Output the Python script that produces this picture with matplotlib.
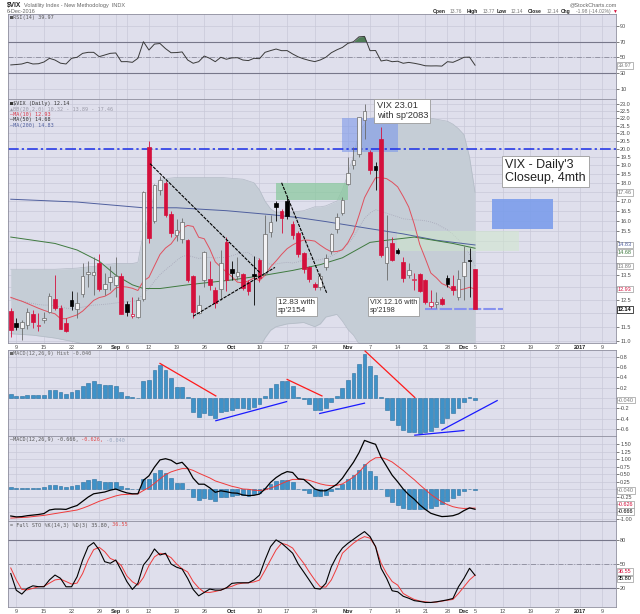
import numpy as np
import pandas as pd
import matplotlib
matplotlib.use("Agg")
import matplotlib.pyplot as plt
from matplotlib.patches import Rectangle
from matplotlib.ticker import FixedLocator, NullLocator, FixedFormatter

plt.rcParams["font.family"] = ["Liberation Sans", "DejaVu Sans"]

# -------------------------------------------------
# DATA  ($VIX daily, 5 Aug 2016 .. 5 Dec 2016)
# -------------------------------------------------
holidays = ["2016-09-05", "2016-11-24", "2016-12-26", "2017-01-02"]
trade_days = pd.bdate_range("2016-08-05", "2017-01-13", freq="C", holidays=holidays)

opens = [12.07, 11.65, 11.45, 11.55, 11.95, 11.52, 11.75, 12.05, 12.55, 12.20,
         11.65, 12.50, 12.15, 12.75, 13.55, 13.50, 14.00, 12.95, 13.20, 13.10,
         13.45, 12.35, 11.90, 11.85, 12.55, 20.10, 16.00, 17.60, 18.00, 16.35,
         15.30, 15.10, 15.05, 13.45, 12.00, 13.30, 13.35, 12.90, 12.95, 14.95,
         13.75, 13.45, 13.55, 13.20, 13.52, 14.15, 13.60, 15.45, 16.90, 16.50,
         17.00, 15.85, 15.40, 14.45, 13.85, 13.15, 13.00, 13.85, 14.55, 15.60,
         16.40, 17.95, 19.00, 19.70, 21.90, 19.80, 18.95, 20.60, 14.00, 14.90,
         14.60, 14.05, 13.50, 13.30, 13.55, 13.30, 12.25, 12.35, 12.55, 13.40,
         13.05, 12.60, 13.45, 14.15, 13.76]
highs = [12.20, 11.80, 11.75, 12.20, 12.10, 12.00, 12.05, 12.78, 13.50, 12.30,
         11.80, 12.85, 12.80, 14.00, 14.10, 14.30, 14.40, 13.60, 13.90, 14.30,
         13.60, 12.45, 12.60, 12.60, 17.55, 20.51, 17.95, 18.40, 18.10, 16.50,
         16.10, 16.15, 15.10, 13.50, 12.70, 14.55, 14.10, 13.00, 14.60, 15.20,
         14.10, 14.30, 13.60, 13.30, 14.35, 14.25, 16.30, 16.30, 17.00, 16.60,
         17.20, 16.00, 15.50, 14.50, 13.90, 13.20, 13.60, 14.40, 15.40, 16.40,
         17.20, 19.50, 20.10, 22.10, 23.01, 19.90, 19.20, 21.40, 16.30, 15.20,
         14.70, 14.30, 14.00, 13.60, 13.60, 13.35, 12.90, 12.80, 12.60, 13.50,
         13.50, 13.70, 14.80, 14.70, 13.77]
lows = [11.15, 11.38, 11.02, 11.40, 11.45, 11.35, 11.65, 12.00, 12.10, 11.40,
        11.30, 12.10, 11.80, 12.60, 13.00, 12.70, 12.85, 12.70, 12.90, 12.60,
        11.95, 11.90, 11.80, 11.80, 12.45, 14.90, 15.90, 17.30, 16.20, 15.20,
        15.00, 14.90, 13.20, 11.80, 11.95, 13.00, 12.90, 12.20, 12.50, 12.85,
        13.30, 13.30, 12.90, 12.70, 12.30, 13.20, 13.50, 15.20, 16.00, 15.40,
        16.10, 15.10, 14.30, 13.60, 13.20, 12.90, 12.90, 13.70, 14.40, 15.40,
        16.30, 17.90, 18.80, 19.50, 20.60, 18.50, 17.60, 14.30, 13.30, 14.10,
        14.40, 13.20, 13.40, 12.90, 12.80, 12.35, 12.20, 12.20, 12.30, 13.00,
        12.70, 12.50, 12.50, 12.60, 12.14]
closes = [11.39, 11.50, 11.66, 12.05, 11.68, 11.55, 11.81, 12.64, 12.19, 11.43,
          11.34, 12.27, 12.38, 13.45, 13.63, 13.65, 12.94, 13.12, 13.42, 13.48,
          11.98, 12.02, 11.94, 12.51, 17.50, 15.16, 17.85, 18.14, 16.30, 15.37,
          15.53, 15.92, 13.30, 12.02, 12.29, 14.50, 13.10, 12.39, 14.02, 13.29,
          13.57, 13.63, 12.99, 12.84, 13.48, 13.38, 15.36, 15.91, 16.69, 16.12,
          16.21, 15.28, 14.41, 13.75, 13.34, 13.02, 13.46, 14.24, 15.36, 16.19,
          17.06, 18.56, 19.32, 22.08, 22.51, 18.71, 18.74, 14.38, 14.74, 14.17,
          14.48, 13.37, 13.72, 13.35, 12.85, 12.42, 12.41, 12.43, 12.34, 13.15,
          12.90, 13.33, 14.07, 14.12, 12.14]

ma10 = [12.60, 12.52, 12.45, 12.36, 12.27, 12.18, 12.10, 12.03, 11.97, 11.79,
        11.79, 11.86, 11.93, 12.07, 12.27, 12.48, 12.59, 12.64, 12.76, 12.97,
        13.03, 13.01, 12.96, 12.87, 13.26, 13.41, 13.90, 14.40, 14.69, 14.88,
        15.23, 15.62, 15.76, 15.71, 15.19, 15.12, 14.65, 14.07, 13.84, 13.64,
        13.44, 13.21, 13.18, 13.26, 13.38, 13.27, 13.50, 13.85, 14.11, 14.40,
        14.66, 14.83, 14.97, 15.06, 15.05, 15.01, 14.82, 14.65, 14.52, 14.53,
        14.61, 14.94, 15.43, 16.26, 17.18, 17.75, 18.28, 18.29, 18.23, 18.03,
        17.77, 17.25, 16.69, 15.82, 14.85, 14.22, 13.59, 13.39, 13.15, 13.05,
        12.89, 12.89, 12.93, 13.00, 12.93]
bb_mid = [12.55, 12.50, 12.45, 12.40, 12.36, 12.32, 12.30, 12.30, 12.27, 12.23,
          12.18, 12.17, 12.18, 12.22, 12.26, 12.30, 12.31, 12.33, 12.35, 12.38,
          12.41, 12.43, 12.45, 12.47, 12.76, 12.94, 13.25, 13.52, 13.73, 13.92,
          14.13, 14.31, 14.36, 14.29, 14.22, 14.26, 14.27, 14.24, 14.27, 14.26,
          14.34, 14.42, 14.47, 14.49, 14.28, 14.20, 14.07, 13.96, 13.98, 14.02,
          14.05, 14.02, 14.07, 14.16, 14.21, 14.14, 14.16, 14.25, 14.32, 14.46,
          14.64, 14.88, 15.20, 15.66, 16.11, 16.38, 16.55, 16.47, 16.37, 16.28,
          16.19, 16.09, 16.06, 16.04, 16.02, 15.99, 15.93, 15.84, 15.69, 15.54,
          15.33, 15.07, 14.81, 14.41, 13.89]

bb_days = [0, 4, 8, 12, 14, 16, 19, 22, 23, 24, 25, 26, 27, 30, 34, 38, 42, 44, 45, 46,
           47, 48, 50, 53, 55, 56, 57, 59, 60, 61, 62, 63, 64, 65, 68, 72, 76, 79, 80, 81,
           82, 83, 84]
bb_upper = [13.75, 13.75, 13.75, 13.8, 13.85, 13.9, 14.0, 14.0, 14.05, 15.4,
            16.2, 17.4, 18.2, 18.3, 18.3, 18.3, 18.2, 18.0, 17.6, 17.0,
            16.6, 16.4, 16.4, 16.5, 16.7, 16.7, 16.75, 17.0, 17.6, 18.5,
            19.6, 21.0, 21.6, 22.0, 22.2, 22.2, 22.0, 21.8, 21.6, 21.3,
            20.9, 19.5, 17.46]
bb_lower = [11.25, 11.2, 11.1, 10.95, 10.85, 10.8, 10.74, 10.7, 10.7, 10.14,
            10.0, 9.6, 9.3, 9.5, 10.0, 10.2, 10.3, 10.5, 10.76, 11.1,
            11.37, 11.5, 11.6, 11.65, 11.5, 11.6, 11.85, 11.95, 11.7, 11.4,
            11.2, 10.9, 10.6, 10.5, 10.3, 10.0, 9.9, 9.5, 9.3, 9.0,
            8.7, 9.3, 10.32]

ma50_days = [0, 4, 8, 12, 16, 19, 22, 24, 27, 32, 36, 40, 46, 51, 56, 60, 65, 68, 73, 80, 84]
ma50_vals = [15.2, 15.05, 14.9, 14.6, 14.1, 13.5, 13.1, 12.95, 12.95, 13.1, 13.2,
             13.3, 13.5, 13.7, 13.95, 14.25, 14.95, 15.05, 15.2, 14.9, 14.68]
ma200_days = [0, 12, 18, 24, 30, 39, 47, 52, 57, 65, 71, 77, 84]
ma200_vals = [17.1, 16.95, 16.8, 16.65, 16.65, 16.5, 16.3, 16.15, 15.95, 15.6, 15.35,
              15.05, 14.83]

rsi = [40.3, 40.8, 41.5, 43.6, 41.5, 41.8, 44.0, 48.7, 46.5, 42.5,
       41.5, 48.7, 50.0, 55.0, 56.3, 56.3, 50.8, 52.9, 55.0, 55.5,
       44.4, 44.5, 43.6, 48.7, 69.8, 59.2, 66.8, 67.5, 61.0, 55.8,
       56.0, 56.8, 46.6, 42.4, 44.4, 51.6, 48.7, 44.4, 50.0, 47.5,
       49.2, 49.5, 46.5, 45.8, 48.7, 48.2, 56.3, 58.5, 60.5, 58.4,
       58.5, 54.2, 50.5, 48.0, 46.0, 44.5, 46.6, 50.0, 55.8, 59.5,
       62.5, 67.7, 69.7, 76.0, 76.5, 58.4, 58.6, 45.3, 46.5, 44.4,
       45.0, 42.4, 43.5, 42.4, 41.0, 39.2, 39.0, 39.1, 38.8, 44.4,
       43.6, 46.6, 50.0, 50.2, 39.97]

macd_hist = [0.07, 0.03, 0.03, 0.05, 0.05, 0.05, 0.06, 0.15, 0.15, 0.12,
             0.08, 0.12, 0.15, 0.23, 0.30, 0.33, 0.28, 0.25, 0.25, 0.23,
             0.12, 0.04, 0.01, 0.00, 0.33, 0.35, 0.54, 0.64, 0.54, 0.39,
             0.21, 0.21, 0.01, -0.27, -0.37, -0.30, -0.33, -0.39, -0.27, -0.25,
             -0.23, -0.19, -0.20, -0.21, -0.17, -0.12, 0.03, 0.19, 0.28, 0.32,
             0.32, 0.23, 0.02, -0.01, -0.12, -0.23, -0.23, -0.19, -0.07, 0.04,
             0.19, 0.35, 0.49, 0.65, 0.85, 0.62, 0.45, 0.01, -0.23, -0.43,
             -0.52, -0.62, -0.65, -0.65, -0.67, -0.66, -0.64, -0.56, -0.49, -0.39,
             -0.30, -0.20, -0.07, 0.01, -0.04]
macd_line = [-0.89, -0.92, -0.91, -0.88, -0.86, -0.84, -0.81, -0.69, -0.66, -0.66,
             -0.67, -0.60, -0.54, -0.40, -0.26, -0.15, -0.12, -0.09, -0.03, 0.01,
             -0.06, -0.12, -0.15, -0.15, 0.30, 0.45, 0.74, 0.98, 1.02, 0.97,
             0.85, 0.90, 0.70, 0.37, 0.17, 0.17, 0.05, -0.10, -0.05, -0.08,
             -0.12, -0.13, -0.19, -0.21, -0.20, -0.16, 0.01, 0.23, 0.39, 0.51,
             0.59, 0.56, 0.35, 0.33, 0.18, 0.01, -0.05, -0.05, 0.05, 0.17,
             0.37, 0.64, 0.90, 1.22, 1.63, 1.56, 1.50, 1.07, 0.77, 0.47,
             0.25, 0.01, -0.18, -0.33, -0.52, -0.67, -0.80, -0.86, -0.91, -0.90,
             -0.88, -0.82, -0.71, -0.62, -0.666]
macd_signal = [-0.96, -0.95, -0.94, -0.93, -0.91, -0.89, -0.87, -0.84, -0.81, -0.78,
               -0.75, -0.72, -0.69, -0.63, -0.56, -0.48, -0.40, -0.34, -0.28, -0.22,
               -0.18, -0.17, -0.16, -0.15, -0.04, 0.06, 0.20, 0.35, 0.49, 0.58,
               0.64, 0.69, 0.69, 0.63, 0.54, 0.46, 0.38, 0.28, 0.22, 0.16,
               0.10, 0.06, 0.01, 0.00, -0.03, -0.04, -0.02, 0.04, 0.11, 0.19,
               0.27, 0.33, 0.33, 0.33, 0.30, 0.24, 0.18, 0.14, 0.12, 0.13,
               0.18, 0.29, 0.41, 0.57, 0.78, 0.94, 1.05, 1.06, 1.00, 0.91,
               0.77, 0.63, 0.47, 0.32, 0.15, -0.01, -0.17, -0.30, -0.42, -0.51,
               -0.58, -0.62, -0.64, -0.63, -0.626]

sto_k = [38.0, 17.0, 12.2, 19.4, 22.6, 21.5, 21.4, 30.0, 36.1, 32.0,
         21.4, 21.4, 34.0, 55.0, 71.8, 76.9, 67.7, 52.9, 50.9, 55.0,
         42.0, 28.0, 18.1, 25.7, 48.7, 57.2, 68.9, 61.3, 63.5, 50.0,
         46.0, 43.7, 32.0, 18.0, 10.0, 14.3, 18.5, 17.2, 17.2, 20.0,
         25.7, 26.4, 26.4, 26.4, 30.0, 36.0, 55.0, 71.8, 80.3, 76.1,
         70.0, 63.5, 50.0, 40.0, 29.8, 19.4, 18.5, 25.7, 46.6, 60.0,
         70.0, 76.0, 81.0, 86.0, 90.7, 84.4, 71.8, 44.6, 32.0, 16.4,
         15.1, 9.5, 7.0, 4.0, 3.0, 1.7, 1.7, 2.5, 3.7, 5.0,
         6.7, 21.4, 32.0, 44.6, 35.8]
sto_d = [45.0, 30.0, 18.0, 17.5, 19.4, 21.4, 22.0, 26.0, 30.0, 31.0,
         28.0, 24.8, 26.0, 38.0, 55.0, 68.0, 71.0, 65.5, 57.0, 54.0,
         48.0, 35.0, 27.7, 23.5, 33.0, 48.0, 59.0, 63.5, 62.0, 58.0,
         50.0, 44.0, 40.0, 28.0, 20.0, 14.5, 14.3, 15.5, 17.2, 20.0,
         22.0, 24.8, 26.0, 26.4, 27.5, 29.8, 42.0, 55.0, 67.7, 76.1,
         74.0, 70.0, 60.0, 51.0, 40.0, 30.0, 21.4, 21.0, 30.0, 45.0,
         63.5, 70.0, 76.1, 81.0, 84.4, 82.4, 71.8, 50.9, 38.0, 28.0,
         23.5, 13.0, 9.0, 5.5, 3.5, 2.5, 1.7, 2.2, 3.4, 4.5,
         5.5, 13.0, 21.4, 30.0, 36.1]

tick_dates = ["2016-08-08", "2016-08-15", "2016-08-22", "2016-08-29", "2016-09-01",
              "2016-09-06", "2016-09-12", "2016-09-19", "2016-09-26", "2016-10-03",
              "2016-10-10", "2016-10-17", "2016-10-24", "2016-11-01", "2016-11-07",
              "2016-11-14", "2016-11-21", "2016-11-28", "2016-12-01", "2016-12-05",
              "2016-12-12", "2016-12-19", "2016-12-27", "2017-01-03", "2017-01-09"]
tick_labels = ["9", "15", "22", "29", "Sep", "6", "12", "19", "26", "Oct", "10", "17",
               "24", "Nov", "7", "14", "21", "28", "Dec", "5", "12", "19", "27", "2017", "9"]
bold_labels = {"Sep", "Oct", "Nov", "Dec", "2017"}

# chartist's drawings: (day0, value0, day1, value1)
price_trendlines = [(25.2, 19.1, 45.1, 13.6), (33.0, 11.88, 47.8, 13.83), (49.0, 18.0, 57.2, 12.75)]
hist_red_lines = [(27.0, 0.67, 37.1, 0.04), (50.0, 0.36, 56.3, 0.04), (64.1, 0.91, 73.1, 0.01)]
hist_blue_lines = [(37.1, -0.44, 49.9, -0.07), (55.9, -0.30, 64.0, -0.10),
                   (73.1, -0.72, 82.0, -0.63), (78.0, -0.62, 88.0, -0.05)]
# (day0, day1, low, high, colour, alpha)
zones = [(48.0, 61.1, 17.05, 18.0, "#8cc9a0", 0.75),
         (69.9, 92.0, 14.55, 15.5, "#cfe8cc", 0.55),
         (60.0, 70.1, 19.8, 22.0, "#7d98ea", 0.6),
         (87.0, 98.1, 15.6, 17.1, "#7b9deb", 0.9)]

n = len(closes)
x = np.arange(n)
tick_pos = [trade_days.get_loc(pd.Timestamp(d)) for d in tick_dates]

# -------------------------------------------------
# STYLE / LAYOUT
# -------------------------------------------------
W, H = 640, 614
LEFT, RIGHT = 8, 616
BG = "#dfdfec"
BAND = "#c5cdd6"
GRID = "#c9c9d8"
SPINE = "#8e8e9e"
RED = "#d4103c"
TXT = "#4a4a4a"
BAR = "#3f92c8"
MONO = "DejaVu Sans Mono"

fig = plt.figure(figsize=(W / 100, H / 100), dpi=100)
fig.patch.set_facecolor("white")


def fpx(xp, yp):
    return xp / W, 1 - yp / H


def add_panel(top, bottom):
    ax = fig.add_axes([LEFT / W, 1 - bottom / H, (RIGHT - LEFT) / W, (bottom - top) / H])
    ax.set_facecolor(BG)
    ax.set_xlim(-0.5, 109.5)
    ax.set_xticks(tick_pos)
    ax.tick_params(axis="x", length=0, labelbottom=False)
    ax.yaxis.tick_right()
    ax.tick_params(axis="y", which="both", labelsize=4, length=2, width=0.5, pad=1,
                   colors=TXT)
    ax.grid(True, color=GRID, lw=0.5)
    ax.set_axisbelow(True)
    for s in ax.spines.values():
        s.set_color(SPINE)
        s.set_linewidth(0.6)
    return ax


def set_yticks(ax, ticks, fmt, hidden=()):
    # labels sitting under a value tag are left blank, as the tag covers them
    ax.yaxis.set_major_locator(FixedLocator(ticks))
    labels = ["" if any(abs(t - h) < 1e-9 for h in hidden) else fmt.format(t) for t in ticks]
    ax.yaxis.set_major_formatter(FixedFormatter(labels))
    ax.yaxis.set_minor_locator(NullLocator())


def date_labels(ax):
    ax.tick_params(axis="x", labelbottom=True, labelsize=4, pad=1.2, colors=TXT)
    ax.set_xticklabels(tick_labels)
    for lab in ax.get_xticklabels():
        if lab.get_text() in bold_labels:
            lab.set_fontweight("bold")
            lab.set_color("#222222")


def tag(ax, val, txt, color="#777777", bold=False, dy=0):
    ax.annotate(txt, xy=(1, val), xycoords=("axes fraction", "data"),
                xytext=(1.5, dy), textcoords="offset points", ha="left", va="center",
                fontsize=4, color=color, fontweight="bold" if bold else "normal",
                bbox=dict(boxstyle="square,pad=0.15", fc="white",
                          ec="black" if bold else "#9a9a9a", lw=0.5),
                annotation_clip=False, zorder=10)


def mono_line(xp, yp, parts, size=3.7):
    cw = 0.602 * size * 100 / 72
    for txt, col in parts:
        fig.text(*fpx(xp, yp), txt, fontsize=size, family=MONO, color=col,
                 ha="left", va="center")
        xp += cw * len(txt)


# -------------------------------------------------
# RSI PANEL
# -------------------------------------------------
ax_rsi = add_panel(14, 99)
ax_rsi.set_ylim(-3, 105)
set_yticks(ax_rsi, [10, 30, 50, 70, 90], "{:.0f}")
rsi_arr = np.array(rsi)
ax_rsi.fill_between(x, 70, rsi_arr, where=rsi_arr >= 70, interpolate=True,
                    color="#4f7d58", lw=0, zorder=2)
ax_rsi.axhline(70, color="#77778a", lw=0.8, zorder=1)
ax_rsi.axhline(30, color="#77778a", lw=0.8, zorder=1)
ax_rsi.axhline(50, color="#8a8a9a", lw=0.6, ls=(0, (6, 2, 1, 2)), zorder=1)
ax_rsi.plot(x, rsi_arr, color="#3a3a3a", lw=0.7, zorder=3)
tag(ax_rsi, rsi[-1], f"{rsi[-1]:.2f}")

# -------------------------------------------------
# PRICE PANEL
# -------------------------------------------------
ax = add_panel(99, 343)
ax.set_yscale("log")
ax.set_ylim(10.93, 23.36)
set_yticks(ax, np.arange(11.0, 23.01, 0.5), "{:.1f}",
           hidden=(17.5, 15.0, 14.5, 14.0, 13.0, 12.0))
date_labels(ax)

ax.fill_between(bb_days, bb_lower, bb_upper, color=BAND, lw=0, zorder=1)
ax.plot(bb_days, bb_upper, color="#b3bbc6", lw=0.5, zorder=1.1)
ax.plot(bb_days, bb_lower, color="#b3bbc6", lw=0.5, zorder=1.1)
ax.plot(x, bb_mid, color="#a6a6b8", lw=0.6, ls=(0, (1, 1.5)), zorder=1.2)

for d0, d1, lo, hi, col, alpha in zones:
    ax.add_patch(Rectangle((d0, lo), d1 - d0, hi - lo, fc=col, ec="none",
                           alpha=alpha, zorder=1.5))

ax.plot(ma200_days, ma200_vals, color="#4f5f9e", lw=0.7, zorder=2)
ax.plot(ma50_days, ma50_vals, color="#3f7a3f", lw=0.7, zorder=2)
ax.plot(x, ma10, color="#e0505e", lw=0.7, zorder=2)

ax.axhline(20.0, color="#1a2ee8", lw=1.1, ls=(0, (7, 2, 1.5, 2)), zorder=2.5)
ax.hlines(12.16, 75, 89, color="#8792ee", lw=1.5, ls=(0, (6, 1)), zorder=2.5)

prev_close = np.r_[np.inf, closes[:-1]]
for i in range(n):
    o, h, l, c = opens[i], highs[i], lows[i], closes[i]
    down = c < prev_close[i]
    if c > o:
        fc = "#f2f2f4"
        ec = RED if down else "#6a6a6a"
    else:
        fc = ec = RED if down else "#000000"
    ax.vlines(i, l, h, color=ec, lw=0.6, zorder=3)
    ax.add_patch(Rectangle((i - 0.33, min(o, c)), 0.66, max(abs(c - o), 0.05),
                           fc=fc, ec=ec, lw=0.5, zorder=3.1))

for d0, v0, d1, v1 in price_trendlines:
    ax.plot([d0, d1], [v0, v1], color="black", lw=0.8, ls=(0, (3, 1)), zorder=4)

box = dict(boxstyle="square,pad=0.25", fc="white", ec="#9a9a9a", lw=0.6)
ax.text(66.2, 23.19, "VIX 23.01\nwith sp'2083", fontsize=6.7, color="#333333",
        va="top", ha="left", bbox=box, zorder=6, linespacing=1.15)
ax.text(48.4, 12.53, "12.83 with\nsp'2154", fontsize=5.9, color="#333333",
        va="top", ha="left", bbox=box, zorder=6, linespacing=1.15)
ax.text(65.0, 12.53, "VIX 12.16 with\nsp'2198", fontsize=5.3, color="#333333",
        va="top", ha="left", bbox=box, zorder=6, linespacing=1.2)
ax.text(89.4, 19.39, "VIX - Daily'3\nCloseup, 4mth", fontsize=9, color="#222222",
        va="top", ha="left", bbox=box, zorder=6, linespacing=1.15)

tag(ax, 17.46, "17.46")
tag(ax, 14.83, "14.83", "#4f5f9e")
tag(ax, 14.68, "14.68", "#3f7a3f", dy=-3.3)
tag(ax, 13.89, "13.89")
tag(ax, ma10[-1], f"{ma10[-1]:.2f}", RED)
tag(ax, closes[-1], f"{closes[-1]:.2f}", "black", bold=True)

# -------------------------------------------------
# MACD HISTOGRAM PANEL
# -------------------------------------------------
ax_h = add_panel(350, 436)
ax_h.set_ylim(-0.736, 0.93)
set_yticks(ax_h, [-0.6, -0.4, -0.2, 0.0, 0.2, 0.4, 0.6, 0.8], "{:.1f}", hidden=(0.0,))
ax_h.bar(x, macd_hist, width=0.7, color=BAR, edgecolor="#2b6f9f", lw=0.4, zorder=2)
for d0, v0, d1, v1 in hist_red_lines:
    ax_h.plot([d0, d1], [v0, v1], color="#ff1a1a", lw=0.9, zorder=3)
for d0, v0, d1, v1 in hist_blue_lines:
    ax_h.plot([d0, d1], [v0, v1], color="#1a1aff", lw=0.9, zorder=3)
tag(ax_h, macd_hist[-1], "-0.040")

# -------------------------------------------------
# MACD PANEL
# -------------------------------------------------
ax_m = add_panel(436, 521)
ax_m.set_ylim(-1.057, 1.777)
set_yticks(ax_m, [-1.0, -0.75, -0.5, -0.25, 0.0, 0.25, 0.5, 0.75, 1.0, 1.25, 1.5],
           "{:.2f}", hidden=(-0.75, -0.5, 0.0))
ax_m.bar(x, macd_hist, width=0.7, color=BAR, edgecolor="#2b6f9f", lw=0.4, zorder=2)
ax_m.plot(x, macd_signal, color="#f03a3a", lw=0.7, zorder=3)
ax_m.plot(x, macd_line, color="black", lw=0.9, zorder=4)
tag(ax_m, macd_hist[-1], "-0.040")
tag(ax_m, macd_signal[-1], "-0.626", RED, dy=2.6)
tag(ax_m, macd_line[-1], "-0.666", "black", dy=-1.8)

# -------------------------------------------------
# SLOW STOCHASTIC PANEL
# -------------------------------------------------
ax_s = add_panel(521, 607)
ax_s.set_ylim(-4, 104)
set_yticks(ax_s, [20, 50, 80], "{:.0f}")
ax_s.axhline(80, color="#77778a", lw=0.8, zorder=1)
ax_s.axhline(20, color="#77778a", lw=0.8, zorder=1)
ax_s.axhline(50, color="#8a8a9a", lw=0.6, ls=(0, (6, 2, 1, 2)), zorder=1)
ax_s.plot(x, sto_d, color="#f03a3a", lw=0.7, zorder=3)
ax_s.plot(x, sto_k, color="black", lw=0.8, zorder=4)
tag(ax_s, sto_d[-1], "36.55", RED, dy=2.6)
tag(ax_s, sto_k[-1], "35.80", "black", dy=-2.6)
date_labels(ax_s)

# -------------------------------------------------
# HEADER & PANEL LEGENDS
# -------------------------------------------------
fig.text(*fpx(7, 5), "$VIX", fontsize=4.8, fontweight="bold", color="#222222",
         ha="left", va="center")
fig.text(*fpx(24, 5), "Volatility Index - New Methodology  INDX", fontsize=4,
         color="#666666", ha="left", va="center")
fig.text(*fpx(7, 11.5), "6-Dec-2016", fontsize=4, color="#666666", ha="left", va="center")
fig.text(*fpx(617, 4.7), "@StockCharts.com", fontsize=4, color="#666666",
         ha="right", va="center")
for xp, txt, bold in [(433, "Open", True), (450, "13.76", False), (466.5, "High", True),
                      (483, "13.77", False), (496.5, "Low", True), (510.5, "12.14", False),
                      (528, "Close", True), (547, "12.14", False), (561, "Chg", True)]:
    fig.text(*fpx(xp, 11.5), txt, fontsize=3.6, color="#222222" if bold else "#777777",
             fontweight="bold" if bold else "normal", ha="left", va="center")
fig.text(*fpx(611, 11.5), "-1.98 (-14.02%)", fontsize=3.6, color="#777777",
         ha="right", va="center")
fig.text(*fpx(612.5, 11.5), "\u25bc", fontsize=3.5, color=RED, ha="left", va="center")

mono_line(10, 17.5, [("\u25a0RSI(14) 39.97", "#555555")])
mono_line(10, 104, [("\u25a0$VIX (Daily) 12.14", "#333333")])
mono_line(10, 109.3, [("\u25b2BB(20,2.0) 10.32 - 13.89 - 17.46", "#9a9aa8")])
mono_line(10, 114.7, [("\u2014MA(10) 12.93", "#d83a4a")])
mono_line(10, 120, [("\u2014MA(50) 14.68", "#333333")])
mono_line(10, 125.3, [("\u2014MA(200) 14.83", "#4f5f9e")])
mono_line(10, 353.5, [("\u25a0MACD(12,26,9) Hist -0.040", "#666666")])
mono_line(10, 440, [("\u2014MACD(12,26,9) -0.666,", "#555555"), (" -0.626,", "#e04848"),
                    (" -0.040", "#9aa8c0")])
mono_line(10, 525, [("= Full STO %K(14,3) %D(3) 35.80,", "#555555"), (" 36.55", "#e04848")])

fig.savefig("out.png", dpi=100, facecolor="white")
